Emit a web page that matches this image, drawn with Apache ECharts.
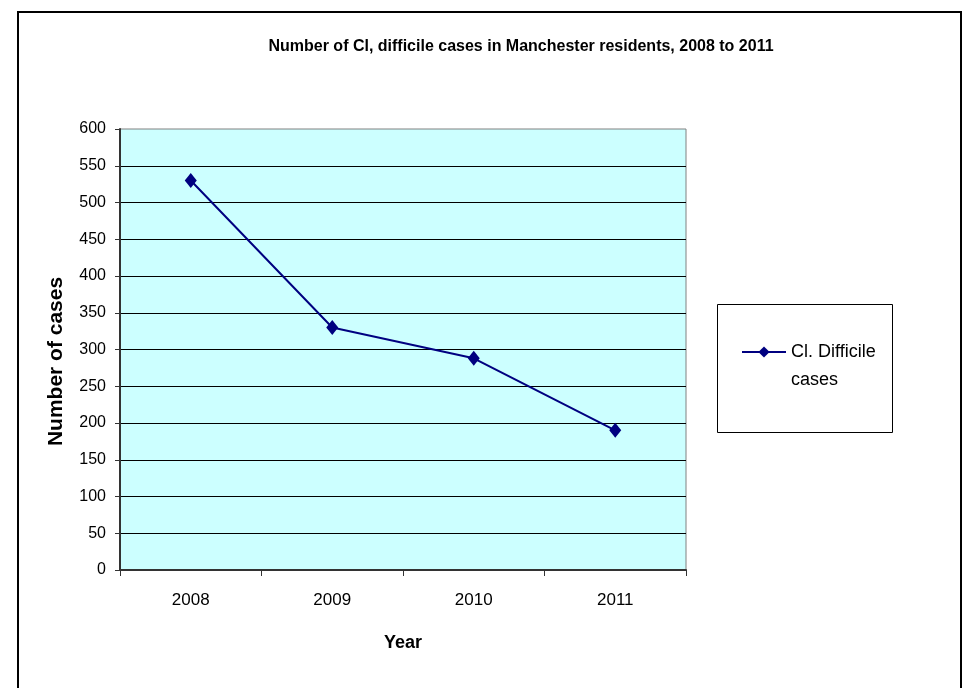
<!DOCTYPE html>
<html>
<head>
<meta charset="utf-8">
<title>Cl. difficile cases</title>
<script src="https://cdn.jsdelivr.net/npm/echarts@6/dist/echarts.min.js"></script>
<style>
  html, body { margin: 0; padding: 0; background: #fff; }
  #chart { width: 962px; height: 688px; }
</style>
</head>
<body>
<div id="chart"></div>
<script>
// data
var years = ['2008', '2009', '2010', '2011']
var cases = [530, 330, 288, 190]
var seriesName = 'Cl. Difficile cases'

var font = '"Liberation Sans", Arial, sans-serif'

var chart = echarts.init(document.getElementById('chart'))
var option = {
  backgroundColor: '#ffffff',
  animation: false,
  title: {
    text: 'Number of Cl, difficile cases in Manchester residents, 2008 to 2011',
    left: 516,
    top: 34,
    textAlign: 'center',
    textStyle: {
      fontFamily: font,
      fontSize: 16,
      fontWeight: 'bold',
      color: '#000'
    }
  },
  graphic: [
    {
      // outer frame
      type: 'rect',
      shape: { x: 18, y: 12, width: 943, height: 700 },
      style: { fill: 'none', stroke: '#000', lineWidth: 2 },
      silent: true
    },
    {
      // legend box
      type: 'rect',
      shape: { x: 717.5, y: 304.5, width: 175, height: 128 },
      style: { fill: '#fff', stroke: '#000', lineWidth: 1 },
      silent: true,
      z: 0
    }
  ],
  legend: {
    data: [seriesName],
    left: 741,
    top: 310,
    padding: 0,
    itemWidth: 44,
    itemHeight: 14,
    z: 5,
    formatter: function () {
      // empty first line keeps the name's first line level with the icon
      return '\nCl. Difficile\ncases'
    },
    textStyle: {
      fontFamily: font,
      fontSize: 18,
      color: '#000',
      lineHeight: 28
    }
  },
  grid: {
    left: 120,
    top: 129,
    width: 566,
    height: 441,
    show: true,
    backgroundColor: '#ccffff',
    borderColor: '#808080',
    borderWidth: 1
  },
  xAxis: {
    type: 'category',
    data: years,
    boundaryGap: true,
    name: 'Year',
    nameLocation: 'middle',
    nameGap: 64,
    nameTextStyle: {
      fontFamily: font,
      fontSize: 18,
      fontWeight: 'bold',
      color: '#000'
    },
    axisLine: { lineStyle: { color: '#333', width: 2 } },
    axisTick: { show: true, length: 6, alignWithLabel: false, lineStyle: { color: '#333' } },
    axisLabel: {
      margin: 22,
      fontFamily: font,
      fontSize: 17,
      color: '#000'
    },
    splitLine: { show: false }
  },
  yAxis: {
    type: 'value',
    min: 0,
    max: 600,
    interval: 50,
    name: 'Number of cases',
    nameLocation: 'middle',
    nameGap: 53,
    nameTextStyle: {
      fontFamily: font,
      fontSize: 21,
      fontWeight: 'bold',
      color: '#000',
      padding: [0, 24, 0, 0]
    },
    axisLine: { show: true, lineStyle: { color: '#333', width: 2 } },
    axisTick: { show: true, length: 5, inside: false, lineStyle: { color: '#333' } },
    axisLabel: {
      margin: 14,
      fontFamily: font,
      fontSize: 16,
      color: '#000'
    },
    splitLine: {
      show: true,
      showMinLine: false,
      showMaxLine: false,
      lineStyle: { color: '#000', width: 1 }
    }
  },
  series: [
    {
      name: seriesName,
      type: 'line',
      data: cases,
      symbol: 'diamond',
      symbolSize: [12, 15],
      itemStyle: { color: '#000080' },
      lineStyle: { color: '#000080', width: 2 },
      z: 3
    }
  ]
}
chart.setOption(option)
</script>
</body>
</html>
